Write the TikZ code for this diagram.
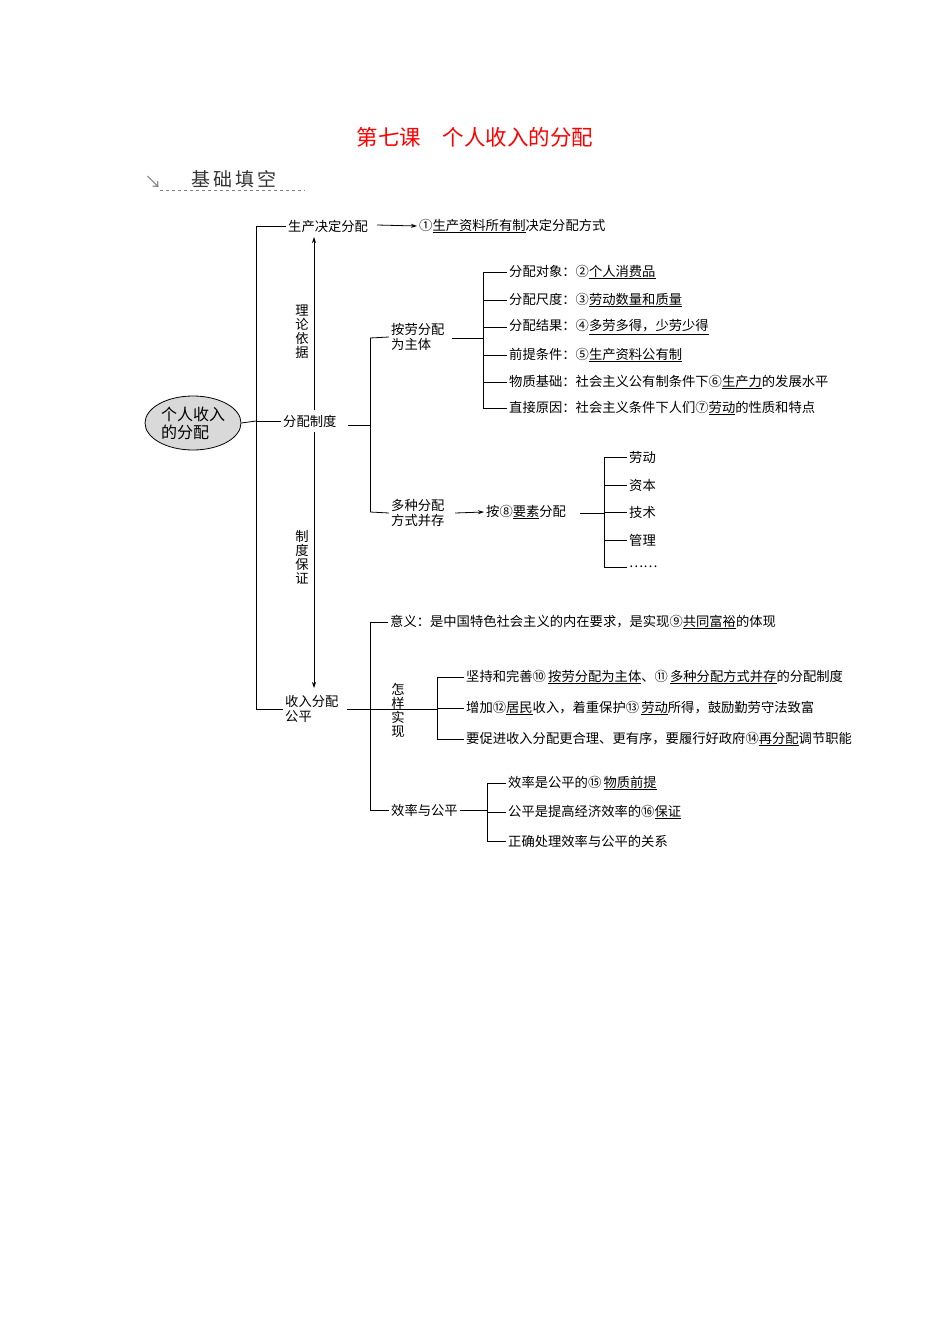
\documentclass[tikz,border=0pt]{standalone}
\usepackage{fontspec}
\setmainfont{Noto Sans CJK SC}
\usetikzlibrary{arrows.meta,shapes.geometric}
\newcommand\bk[1]{\underline{#1}}
\begin{document}
\begin{tikzpicture}[x=1pt,y=-1pt,
  every node/.style={font=\fontsize{13.3}{15}\selectfont},
  t/.style={anchor=west,inner xsep=2pt,inner ysep=0pt},
  ln/.style={line width=0.8pt},
  ar/.style={line width=0.8pt,-{Stealth[length=6pt,width=4pt]}},
  vt/.style={inner sep=0pt,align=center,font=\fontsize{13.3}{14}\selectfont}]
\useasboundingbox (0,0) rectangle (950,1344);
\node[text=red,font=\fontsize{21.5}{24}\selectfont] (title) at (475,137) {第七课\quad 个人收入的分配};
\node[font=\fontsize{19}{22}\selectfont,text=black!80] (jc) at (234,179) {基\,础\,填\,空};
\node[text=gray,font=\fontsize{17}{20}\selectfont] (ar0) at (153,182) {↘};
\draw[gray,dashed] (160,190) -- (305,190);
% root
\node[ellipse,draw,fill=black!15,line width=0.8pt,minimum width=96,minimum height=54,align=left,inner sep=0pt,font=\fontsize{16}{18}\selectfont] (root) at (193,423) {个人收入\\的分配};
\coordinate (m0) at (256,226);
\coordinate (m1) at (256,421);
\coordinate (m2) at (256,709);
\draw[ln] (root.east) -- (m1);
\draw[ln] (m0) -- (m2);
\node[t] (sc) at (286,226) {生产决定分配};
\node[t] (fp) at (281,421) {分配制度};
\node[t,align=left] (sr) at (283,709) {收入分配\\公平};
\draw[ln] (m0) -- (sc.west);
\draw[ln] (m1) -- (fp.west);
\draw[ln] (m2) -- (sr.west);
\draw[ar] (314,410) -- (314,237);
\draw[ar] (314,432) -- (314,688);
\node[vt] (ll) at (302,332) {理\\论\\依\\据};
\node[vt] (zd) at (302,557) {制\\度\\保\\证};
\node[t] (d1) at (417,226) {①\bk{生产资料所有制}决定分配方式};
\draw[ar] (377,225) -- (d1.west);
% 分配制度
\coordinate (f0) at (370,338);
\coordinate (f1) at (370,512);
\draw[ln] (348,425) -- (370,425);
\draw[ln] (f0) -- (f1);
\node[t,align=left] (al) at (389,337) {按劳分配\\为主体};
\node[t,align=left] (dz) at (389,513) {多种分配\\方式并存};
\draw[ln] (f0) -- (al.west);
\draw[ln] (f1) -- (dz.west);
\draw[ln] (452,338) -- (483,338);
\draw[ln] (483,272) -- (483,408);
\foreach \y/\n/\s in {272/a1/{分配对象：②\bk{个人消费品}},300/a2/{分配尺度：③\bk{劳动数量和质量}},327/a3/{分配结果：④\bk{多劳多得，少劳少得}},355/a4/{前提条件：⑤\bk{生产资料公有制}},382/a5/{物质基础：社会主义公有制条件下⑥\bk{生产力}的发展水平},408/a6/{直接原因：社会主义条件下人们⑦\bk{劳动}的性质和特点}}{
  \node[t] (\n) at (507,\y) {\s};
  \draw[ln] (483,\y) -- (\n.west);
}
\node[t] (ys) at (484,512) {按⑧\bk{要素}分配};
\draw[ar] (455,513) -- (ys.west);
\draw[ln] (580,513) -- (604,513);
\draw[ln] (604,457) -- (604,567);
\foreach \y/\n/\s in {457/b1/劳动,485/b2/资本,512/b3/技术,540/b4/管理,567/b5/{……}}{
  \node[t] (\n) at (627,\y) {\s};
  \draw[ln] (604,\y) -- (\n.west);
}
% 收入分配公平
\draw[ln] (347,709) -- (370,709);
\draw[ln] (370,622) -- (370,810);
\node[t] (yy) at (388,622) {意义：是中国特色社会主义的内在要求，是实现⑨\bk{共同富裕}的体现};
\draw[ln] (370,622) -- (yy.west);
\node[vt,inner sep=1pt] (zy) at (398,710) {怎\\样\\实\\现};
\draw[ln] (370,709) -- (437,709);
\draw[ln] (437,677) -- (437,739);
\foreach \y/\n/\s in {677/c1/{坚持和完善⑩\,\bk{按劳分配为主体}、⑪\,\bk{多种分配方式并存}的分配制度},708/c2/{增加⑫\bk{居民}收入，着重保护⑬\,\bk{劳动}所得，鼓励勤劳守法致富},739/c3/{要促进收入分配更合理、更有序，要履行好政府⑭\bk{再分配}调节职能}}{
  \node[t] (\n) at (464,\y) {\s};
  \draw[ln] (437,\y) -- (\n.west);
}
\node[t] (xl) at (389,810) {效率与公平};
\draw[ln] (370,810) -- (xl.west);
\draw[ln] (xl.east) -- (487,810);
\draw[ln] (487,783) -- (487,841);
\foreach \y/\n/\s in {783/e1/{效率是公平的⑮\,\bk{物质前提}},812/e2/{公平是提高经济效率的⑯\bk{保证}},841/e3/{正确处理效率与公平的关系}}{
  \node[t] (\n) at (506,\y) {\s};
  \draw[ln] (487,\y) -- (\n.west);
}
\end{tikzpicture}
\end{document}
